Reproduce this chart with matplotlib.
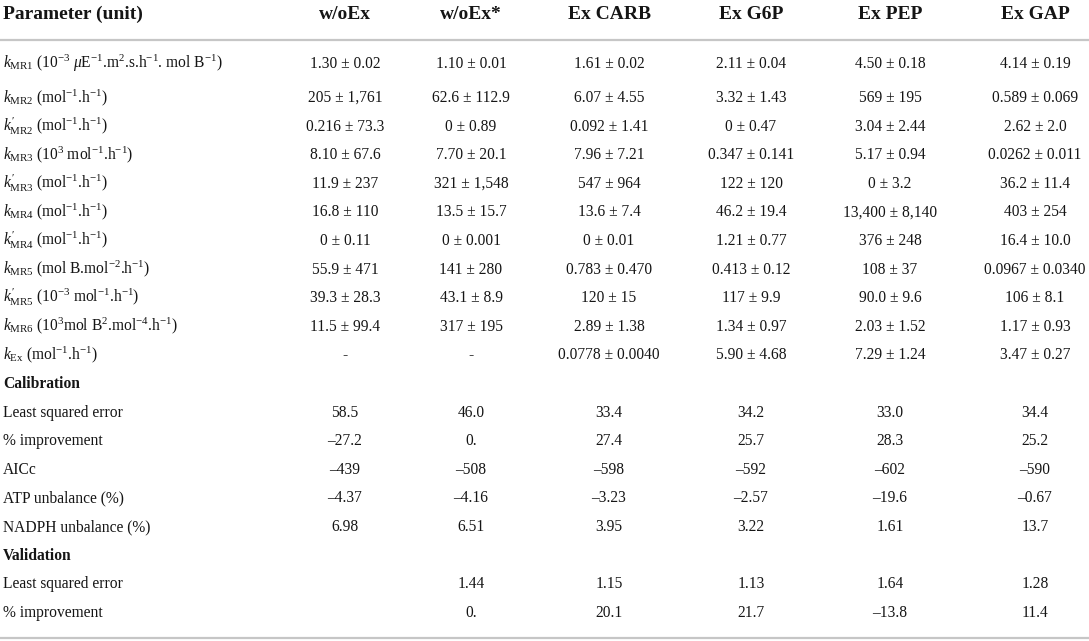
import matplotlib
matplotlib.use("Agg")
import matplotlib.pyplot as plt

plt.rcParams['font.family'] = ['Liberation Serif', 'DejaVu Serif']
plt.rcParams['mathtext.fontset'] = 'custom'
plt.rcParams['mathtext.rm'] = 'Liberation Serif'
plt.rcParams['mathtext.it'] = 'Liberation Serif:italic'
plt.rcParams['mathtext.bf'] = 'Liberation Serif:bold'

# ---------------- data ----------------
header_first = "Parameter (unit)"
columns = ["w/oEx", "w/oEx*", "Ex CARB", "Ex G6P", "Ex PEP", "Ex GAP"]

row_labels = [
    r"$k_{\mathrm{MR1}}$ (10$^{-3}$ $\mu$E$^{-1}$.m$^{2}$.s.h$^{-1}$. mol B$^{-1}$)",
    r"$k_{\mathrm{MR2}}$ (mol$^{-1}$.h$^{-1}$)",
    r"$k^{\prime}_{\mathrm{MR2}}$ (mol$^{-1}$.h$^{-1}$)",
    r"$k_{\mathrm{MR3}}$ (10$^{3}$ mol$^{-1}$.h$^{-1}$)",
    r"$k^{\prime}_{\mathrm{MR3}}$ (mol$^{-1}$.h$^{-1}$)",
    r"$k_{\mathrm{MR4}}$ (mol$^{-1}$.h$^{-1}$)",
    r"$k^{\prime}_{\mathrm{MR4}}$ (mol$^{-1}$.h$^{-1}$)",
    r"$k_{\mathrm{MR5}}$ (mol B.mol$^{-2}$.h$^{-1}$)",
    r"$k^{\prime}_{\mathrm{MR5}}$ (10$^{-3}$ mol$^{-1}$.h$^{-1}$)",
    r"$k_{\mathrm{MR6}}$ (10$^{3}$mol B$^{2}$.mol$^{-4}$.h$^{-1}$)",
    r"$k_{\mathrm{Ex}}$ (mol$^{-1}$.h$^{-1}$)",
    "Calibration",
    "Least squared error",
    "% improvement",
    "AICc",
    "ATP unbalance (%)",
    "NADPH unbalance (%)",
    "Validation",
    "Least squared error",
    "% improvement",
]
section_rows = ["Calibration", "Validation"]

k_mr1 = ["1.30 ± 0.02", "1.10 ± 0.01", "1.61 ± 0.02", "2.11 ± 0.04", "4.50 ± 0.18", "4.14 ± 0.19"]
k_mr2 = ["205 ± 1,761", "62.6 ± 112.9", "6.07 ± 4.55", "3.32 ± 1.43", "569 ± 195", "0.589 ± 0.069"]
kp_mr2 = ["0.216 ± 73.3", "0 ± 0.89", "0.092 ± 1.41", "0 ± 0.47", "3.04 ± 2.44", "2.62 ± 2.0"]
k_mr3 = ["8.10 ± 67.6", "7.70 ± 20.1", "7.96 ± 7.21", "0.347 ± 0.141", "5.17 ± 0.94", "0.0262 ± 0.011"]
kp_mr3 = ["11.9 ± 237", "321 ± 1,548", "547 ± 964", "122 ± 120", "0 ± 3.2", "36.2 ± 11.4"]
k_mr4 = ["16.8 ± 110", "13.5 ± 15.7", "13.6 ± 7.4", "46.2 ± 19.4", "13,400 ± 8,140", "403 ± 254"]
kp_mr4 = ["0 ± 0.11", "0 ± 0.001", "0 ± 0.01", "1.21 ± 0.77", "376 ± 248", "16.4 ± 10.0"]
k_mr5 = ["55.9 ± 471", "141 ± 280", "0.783 ± 0.470", "0.413 ± 0.12", "108 ± 37", "0.0967 ± 0.0340"]
kp_mr5 = ["39.3 ± 28.3", "43.1 ± 8.9", "120 ± 15", "117 ± 9.9", "90.0 ± 9.6", "106 ± 8.1"]
k_mr6 = ["11.5 ± 99.4", "317 ± 195", "2.89 ± 1.38", "1.34 ± 0.97", "2.03 ± 1.52", "1.17 ± 0.93"]
k_ex = ["-", "-", "0.0778 ± 0.0040", "5.90 ± 4.68", "7.29 ± 1.24", "3.47 ± 0.27"]
calibration = ["", "", "", "", "", ""]
cal_lse = ["58.5", "46.0", "33.4", "34.2", "33.0", "34.4"]
cal_improvement = ["–27.2", "0.", "27.4", "25.7", "28.3", "25.2"]
aicc = ["–439", "–508", "–598", "–592", "–602", "–590"]
atp_unbalance = ["–4.37", "–4.16", "–3.23", "–2.57", "–19.6", "–0.67"]
nadph_unbalance = ["6.98", "6.51", "3.95", "3.22", "1.61", "13.7"]
validation = ["", "", "", "", "", ""]
val_lse = ["", "1.44", "1.15", "1.13", "1.64", "1.28"]
val_improvement = ["", "0.", "20.1", "21.7", "–13.8", "11.4"]

table_rows = [k_mr1, k_mr2, kp_mr2, k_mr3, kp_mr3, k_mr4, kp_mr4, k_mr5, kp_mr5,
              k_mr6, k_ex, calibration, cal_lse, cal_improvement, aicc,
              atp_unbalance, nadph_unbalance, validation, val_lse, val_improvement]

# ---------------- layout ----------------
W, H = 1089, 641
fig = plt.figure(figsize=(W / 100, H / 100), dpi=100)
ax = fig.add_axes([0, 0, 1, 1])
ax.set_xlim(0, W)
ax.set_ylim(H, 0)
ax.axis("off")

col_x = [345, 471, 609, 751, 890, 1035]
label_x = 3
header_base = 19
first_row_y = 63
second_row_y = 97
row_step = 28.6
base_off = 5
body_fs = 11.2
header_fs = 14
line_color = "#c6c6c6"
text_color = "#151515"

row_y = [first_row_y] + [second_row_y + i * row_step for i in range(len(table_rows) - 1)]

# header
ax.text(label_x, header_base, header_first, fontsize=header_fs, fontweight="bold",
        ha="left", va="baseline", color=text_color)
for x, name in zip(col_x, columns):
    ax.text(x, header_base, name, fontsize=header_fs, fontweight="bold",
            ha="center", va="baseline", color=text_color)

ax.plot([0, W], [40, 40], color=line_color, lw=1.6, solid_capstyle="butt")
ax.plot([0, W], [638, 638], color=line_color, lw=1.6, solid_capstyle="butt")

for y, label, vals in zip(row_y, row_labels, table_rows):
    bold = label in section_rows
    ax.text(label_x, y + base_off, label, fontsize=body_fs,
            fontweight="bold" if bold else "normal",
            ha="left", va="baseline", color=text_color)
    for x, v in zip(col_x, vals):
        if v:
            ax.text(x, y + base_off, v, fontsize=body_fs, ha="center",
                    va="baseline", color=text_color)

fig.savefig("out.png", dpi=100, facecolor="white")
